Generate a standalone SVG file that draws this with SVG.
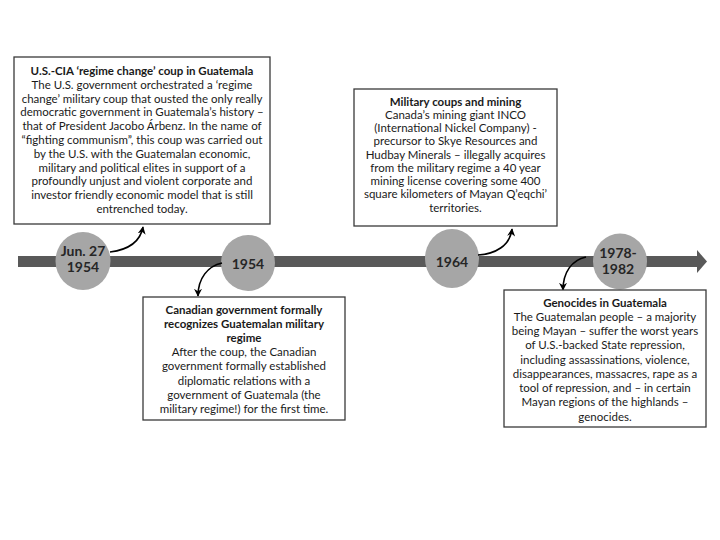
<svg xmlns="http://www.w3.org/2000/svg" width="720" height="540" viewBox="0 0 720 540">
<style>
  .box { fill: #ffffff; stroke: #3a3a3a; stroke-width: 1.3; }
  .t { font-family: Lato, "Liberation Sans", sans-serif; font-size: 11.5px; fill: #1a1a1a; text-anchor: middle; }
  .b { font-weight: bold; }
  .dot { fill: #a6a6a6; }
  .yr { font-family: Lato, "Liberation Sans", sans-serif; font-size: 14px; font-weight: bold; fill: #262626; text-anchor: middle; }
  .con { fill: none; stroke: #000000; stroke-width: 1.6; marker-end: url(#ah); }
</style>
<defs>
  <marker id="ah" viewBox="0 0 10 10" refX="9" refY="5" markerWidth="8" markerHeight="8" markerUnits="userSpaceOnUse" orient="auto">
    <path d="M0,0 L10,5 L0,10 L3,5 z" fill="#000000"/>
  </marker>
</defs>
<rect width="720" height="540" fill="#ffffff"/>

<g id="timeline">
  <rect x="18" y="256" width="680" height="11" fill="#595959"/>
  <polygon points="697,250 707,261.5 697,273" fill="#595959"/>
</g>

<g id="date-1954-jun">
  <ellipse class="dot" cx="83" cy="261" rx="27.5" ry="29"/>
  <text class="yr" x="83" y="256">Jun. 27</text>
  <text class="yr" x="83" y="272">1954</text>
</g>
<g id="date-1954">
  <ellipse class="dot" cx="248" cy="263" rx="27" ry="28"/>
  <text class="yr" x="248" y="269">1954</text>
</g>
<g id="date-1964">
  <ellipse class="dot" cx="452" cy="258.5" rx="27" ry="29.5"/>
  <text class="yr" x="452" y="266.5">1964</text>
</g>
<g id="date-1978">
  <ellipse class="dot" cx="620" cy="261.5" rx="27" ry="28"/>
  <text class="yr" x="618" y="258">1978-</text>
  <text class="yr" x="618" y="274">1982</text>
</g>

<g id="connectors">
  <path class="con" d="M110,252 C126,250 140,243 143,227"/>
  <path class="con" d="M222,263 C208,266 198,278 198,296"/>
  <path class="con" d="M478,255 C495,254 510,246 512,229"/>
  <path class="con" d="M586,257 C572,260 563,272 563,290"/>
</g>

<g id="box-coup">
  <rect class="box" x="14" y="57" width="256" height="167"/>
  <text class="t b" x="142" y="75">U.S.-CIA ‘regime change’ coup in Guatemala</text>
  <text class="t" x="142" y="88.8">The U.S. government orchestrated a ‘regime</text>
  <text class="t" x="142" y="102.6">change’ military coup that ousted the only really</text>
  <text class="t" x="142" y="116.4">democratic government in Guatemala’s history –</text>
  <text class="t" x="142" y="130.2">that of President Jacobo Árbenz. In the name of</text>
  <text class="t" x="142" y="144">“fighting communism”, this coup was carried out</text>
  <text class="t" x="142" y="157.8">by the U.S. with the Guatemalan economic,</text>
  <text class="t" x="142" y="171.6">military and political elites in support of a</text>
  <text class="t" x="142" y="185.4">profoundly unjust and violent corporate and</text>
  <text class="t" x="142" y="199.2">investor friendly economic model that is still</text>
  <text class="t" x="142" y="213">entrenched today.</text>
</g>

<g id="box-canada">
  <rect class="box" x="143" y="297" width="202" height="123"/>
  <text class="t b" x="244" y="313.5">Canadian government formally</text>
  <text class="t b" x="244" y="327.7">recognizes Guatemalan military</text>
  <text class="t b" x="244" y="341.9">regime</text>
  <text class="t" x="244" y="356.1">After the coup, the Canadian</text>
  <text class="t" x="244" y="370.3">government formally established</text>
  <text class="t" x="244" y="384.5">diplomatic relations with a</text>
  <text class="t" x="244" y="398.7">government of Guatemala (the</text>
  <text class="t" x="244" y="412.9">military regime!) for the first time.</text>
</g>

<g id="box-mining">
  <rect class="box" x="354" y="89" width="203" height="137"/>
  <text class="t b" x="455.5" y="105.8">Military coups and mining</text>
  <text class="t" x="455.5" y="119">Canada’s mining giant INCO</text>
  <text class="t" x="455.5" y="132.2">(International Nickel Company) -</text>
  <text class="t" x="455.5" y="145.4">precursor to Skye Resources and</text>
  <text class="t" x="455.5" y="158.6">Hudbay Minerals – illegally acquires</text>
  <text class="t" x="455.5" y="171.8">from the military regime a 40 year</text>
  <text class="t" x="455.5" y="185">mining license covering some 400</text>
  <text class="t" x="455.5" y="198.2">square kilometers of Mayan Q’eqchi’</text>
  <text class="t" x="455.5" y="212.2">territories.</text>
</g>

<g id="box-genocide">
  <rect class="box" x="504" y="290" width="202" height="137"/>
  <text class="t b" x="605" y="306.7">Genocides in Guatemala</text>
  <text class="t" x="605" y="320.9">The Guatemalan people – a majority</text>
  <text class="t" x="605" y="335.1">being Mayan – suffer the worst years</text>
  <text class="t" x="605" y="349.3">of U.S.-backed State repression,</text>
  <text class="t" x="605" y="363.5">including assassinations, violence,</text>
  <text class="t" x="605" y="377.7">disappearances, massacres, rape as a</text>
  <text class="t" x="605" y="391.9">tool of repression, and – in certain</text>
  <text class="t" x="605" y="406.1">Mayan regions of the highlands –</text>
  <text class="t" x="605" y="420.5">genocides.</text>
</g>
</svg>
